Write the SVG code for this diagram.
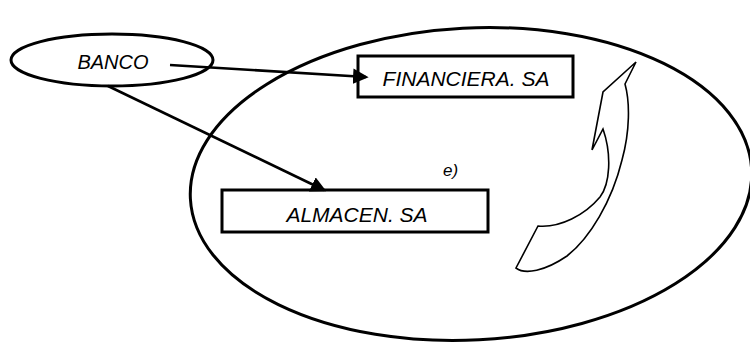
<svg xmlns="http://www.w3.org/2000/svg" width="750" height="346" viewBox="0 0 750 346">
  <defs>
    <marker id="arrowhead" markerWidth="6" markerHeight="6" refX="5" refY="3" orient="auto" markerUnits="strokeWidth">
      <path d="M0,0 L6,3 L0,6 Z" fill="#000"/>
    </marker>
    <style>
      .outline { fill: none; stroke: #000; stroke-width: 3; }
      .box { fill: #fff; stroke: #000; stroke-width: 3; }
      .label { font-family: "Liberation Sans", Arial, sans-serif; font-style: italic; fill: #000; }
      .link { fill: none; stroke: #000; stroke-width: 2.6; marker-end: url(#arrowhead); }
    </style>
  </defs>
  <rect width="750" height="346" fill="#fff"/>

  <!-- group boundary, slightly tilted -->
  <g id="grupo">
    <ellipse class="outline" cx="471" cy="184" rx="281" ry="156" transform="rotate(-3 471 184)"/>
  </g>

  <g id="banco">
    <ellipse class="outline" cx="112" cy="60" rx="101" ry="26"/>
    <text class="label" x="113" y="69" font-size="20" text-anchor="middle">BANCO</text>
  </g>

  <g id="financiera">
    <rect class="box" x="358" y="56" width="215" height="41"/>
    <text class="label" x="466" y="86" font-size="21" text-anchor="middle">FINANCIERA. SA</text>
  </g>

  <g id="almacen">
    <rect class="box" x="222" y="190" width="266" height="42"/>
    <text class="label" x="357" y="222" font-size="21" text-anchor="middle">ALMACEN. SA</text>
  </g>

  <g id="nota">
    <text class="label" x="443" y="176" font-size="17">e)</text>
  </g>

  <!-- curved block arrow -->
  <g id="flecha-curva">
    <path d="M636,62 L603,92 L592,150 L603,129 C612,155 610,184 600,197 C585,215 560,228 538,226 L516,268 C525,275 545,271 567,256 C590,238 612,201 622,160 C630,131 630,102 625,84 Z" fill="#fff" stroke="#000" stroke-width="1.6" stroke-linejoin="miter"/>
  </g>

  <g id="conectores">
    <line class="link" x1="170" y1="65" x2="366" y2="77"/>
    <line class="link" x1="108" y1="86" x2="324" y2="190"/>
  </g>
</svg>
